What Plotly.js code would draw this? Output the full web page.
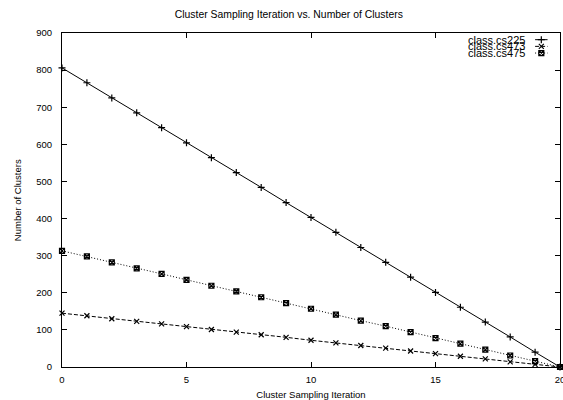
<!DOCTYPE html>
<html><head><meta charset="utf-8">
<script src="https://cdn.plot.ly/plotly-3.0.1.min.js"></script>
<style>body{margin:0;padding:0;background:#fff}#chart{width:563px;height:400px}</style>
</head><body><div id="chart"></div>
<script>
const iterations = [0,1,2,3,4,5,6,7,8,9,10,11,12,13,14,15,16,17,18,19,20];
const cs225 = [806,766,725,685,645,604,564,524,484,443,403,363,322,282,242,201,161,121,81,40,0];
const cs473 = [145,138,130,123,116,109,101,94,87,80,72,65,58,51,43,36,29,22,14,7,0];
const cs475 = [313,298,282,266,251,235,219,204,188,172,157,141,125,110,94,78,63,47,31,16,0];
const seriesNames = ['class.cs225','class.cs473','class.cs475'];
const xTicks = [0,5,10,15,20];
const yTicks = [0,100,200,300,400,500,600,700,800,900];

const font = {family:'Liberation Sans, Arial, sans-serif', size:9.5, color:'#000'};
const styles = [
  {dash:'solid', symbol:'cross-thin-open', size:5},
  {dash:'4px,2px', symbol:'x-thin-open', size:5},
  {dash:'1px,2px', symbol:'square-x-open', size:5}
];
const values = [cs225, cs473, cs475];

const traces = values.map((v,i)=>({
  x: iterations, y: v, type:'scatter', mode:'lines+markers', name: seriesNames[i],
  line:{color:'#000', width:1, dash:styles[i].dash},
  marker:{symbol:styles[i].symbol, size:styles[i].size, color:'#000', line:{color:'#000', width:1.2}},
  showlegend:false, cliponaxis:false
}));

// custom compact legend on an overlay axis (0..1 space)
const legendRowY = [0.980, 0.960, 0.940];
const legendX = [0.950, 0.975];
const annotations = [];
seriesNames.forEach((n,i)=>{
  traces.push({
    x: legendX, y:[legendRowY[i], legendRowY[i]], xaxis:'x2', yaxis:'y2',
    type:'scatter', mode:'lines', line:{color:'#000', width:1, dash:styles[i].dash},
    showlegend:false, hoverinfo:'skip'
  });
  traces.push({
    x: [(legendX[0]+legendX[1])/2], y:[legendRowY[i]], xaxis:'x2', yaxis:'y2',
    type:'scatter', mode:'markers',
    marker:{symbol:styles[i].symbol, size:styles[i].size, color:'#000', line:{color:'#000', width:1.2}},
    showlegend:false, hoverinfo:'skip'
  });
  annotations.push({
    xref:'x2', yref:'y2', x:0.934, y:legendRowY[i], text:n, showarrow:false,
    xanchor:'right', yanchor:'middle', font:{...font, size:11}
  });
});
// y axis title placed like the reference
annotations.push({
  xref:'paper', yref:'paper', x:-0.090, y:0.5, text:'Number of Clusters', textangle:-90,
  showarrow:false, xanchor:'center', yanchor:'middle', font:font
});

const layout = {
  width:563, height:400,
  margin:{l:62, r:3, t:33, b:33, pad:0},
  paper_bgcolor:'#fff', plot_bgcolor:'#fff',
  font: font,
  title:{text:'Cluster Sampling Iteration vs. Number of Clusters', font:{...font, size:10.4}, x:0.513, xref:'container', xanchor:'center', y:0.965, yref:'container', yanchor:'middle'},
  xaxis:{
    range:[0,20], tickvals:xTicks, ticktext:xTicks.map(String),
    ticks:'inside', ticklen:5, tickcolor:'#000', showline:true, linecolor:'#000', linewidth:1,
    mirror:'ticks', showgrid:false, zeroline:false, tickfont:font, ticklabeloverflow:'allow',
    ticklabelstandoff:4,
    title:{text:'Cluster Sampling Iteration', font:font, standoff:9}
  },
  yaxis:{
    range:[0,900], tickvals:yTicks, ticktext:yTicks.map(String),
    ticks:'inside', ticklen:5, tickcolor:'#000', showline:true, linecolor:'#000', linewidth:1,
    mirror:'ticks', showgrid:false, zeroline:false, tickfont:font, ticklabelstandoff:7
  },
  xaxis2:{overlaying:'x', range:[0,1], visible:false, fixedrange:true},
  yaxis2:{overlaying:'y', range:[0,1], visible:false, fixedrange:true},
  annotations: annotations,
  showlegend:false
};
Plotly.newPlot('chart', traces, layout, {staticPlot:true});
</script></body></html>
